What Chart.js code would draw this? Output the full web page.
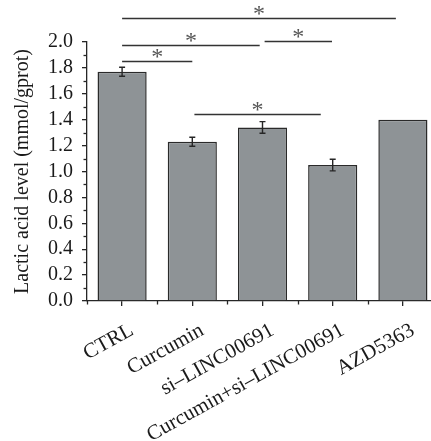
<!DOCTYPE html>
<html>
<head>
<meta charset="utf-8">
<script src="https://cdn.jsdelivr.net/npm/chart.js@4.4.1/dist/chart.umd.min.js"></script>
<style>
html,body{margin:0;padding:0;background:#fff;overflow:hidden;}
#wrap{width:431px;height:441px;overflow:hidden;}
</style>
</head>
<body>
<div id="wrap"><canvas id="c" width="438" height="441" style="width:438px;height:441px;"></canvas></div>
<script>
const categories = ['CTRL', 'Curcumin', 'si\u2013LINC00691', 'Curcumin+si\u2013LINC00691', 'AZD5363'];
const values = [1.77, 1.23, 1.34, 1.05, 1.40];
const errors = [0.035, 0.035, 0.045, 0.045, 0];
const yTicks = [0, 0.2, 0.4, 0.6, 0.8, 1.0, 1.2, 1.4, 1.6, 1.8, 2.0];
// significance brackets: start index, end index, level
const bracketStart = [0, 0, 2.03, 0, 1.03];
const bracketEnd = [3.9, 1.96, 2.99, 1.0, 2.83];
const bracketLevel = [2.185, 1.977, 2.008, 1.853, 1.444];
const bracketMark = ['*', '*', '*', '*', '*'];

const FONT = "'Liberation Serif', 'Times New Roman', serif";
const INK = '#262626';

const annot = {
  id: 'annot',
  afterDatasetsDraw(chart) {
    const ctx = chart.ctx;
    const xs = chart.scales.x, ys = chart.scales.y;
    ctx.save();
    ctx.strokeStyle = INK;
    ctx.lineWidth = 1.3;
    // minor y ticks
    for (let i = 0; i < yTicks.length - 1; i++) {
      const v = (yTicks[i] + yTicks[i + 1]) / 2;
      const py = Math.round(ys.getPixelForValue(v)) + 0.5;
      ctx.beginPath();
      ctx.moveTo(xs.left - 3.5, py);
      ctx.lineTo(xs.left, py);
      ctx.stroke();
    }
    // minor x ticks
    for (let i = 0; i <= categories.length; i++) {
      const px = Math.round(xs.getPixelForValue(i - 0.5)) + 0.5;
      ctx.beginPath();
      ctx.moveTo(px, ys.bottom);
      ctx.lineTo(px, ys.bottom + 3.5);
      ctx.stroke();
    }
    // error bars
    ctx.lineWidth = 1.4;
    for (let i = 0; i < values.length; i++) {
      if (!errors[i]) continue;
      const px = xs.getPixelForValue(i);
      const hi = ys.getPixelForValue(values[i] + errors[i]);
      const lo = ys.getPixelForValue(values[i] - errors[i]);
      ctx.beginPath();
      ctx.moveTo(px, hi); ctx.lineTo(px, lo);
      ctx.moveTo(px - 3, hi); ctx.lineTo(px + 3, hi);
      ctx.moveTo(px - 3, lo); ctx.lineTo(px + 3, lo);
      ctx.stroke();
    }
    // brackets
    ctx.lineWidth = 1.3;
    ctx.strokeStyle = '#333';
    ctx.fillStyle = '#555';
    ctx.font = '24px ' + FONT;
    ctx.textAlign = 'center';
    ctx.textBaseline = 'alphabetic';
    for (let i = 0; i < bracketStart.length; i++) {
      const x1 = xs.getPixelForValue(bracketStart[i]);
      const x2 = xs.getPixelForValue(bracketEnd[i]);
      const py = Math.round(ys.getPixelForValue(bracketLevel[i])) + 0.5;
      ctx.beginPath();
      ctx.moveTo(x1, py); ctx.lineTo(x2, py);
      ctx.stroke();
      ctx.fillText(bracketMark[i], (x1 + x2) / 2, py + 2);
    }
    ctx.restore();
  }
};

new Chart(document.getElementById('c'), {
  type: 'bar',
  data: {
    labels: categories,
    datasets: [{
      data: values,
      backgroundColor: '#8e9396',
      borderColor: '#2a2a2a',
      borderWidth: 1.5,
      categoryPercentage: 1.0,
      barPercentage: 0.7
    }]
  },
  options: {
    responsive: false,
    animation: false,
    devicePixelRatio: 1,
    layout: { padding: { top: 42, right: 0, left: 0, bottom: 0 } },
    plugins: { legend: { display: false }, tooltip: { enabled: false } },
    scales: {
      x: {
        afterFit(s) { s.height = 140; },
        grid: { offset: false, drawOnChartArea: false, drawTicks: true, tickLength: 5, color: INK, lineWidth: 1.3 },
        border: { display: true, color: INK, width: 1.3 },
        ticks: {
          color: '#1a1a1a',
          font: { family: FONT, size: 21 },
          minRotation: 29, maxRotation: 29,
          autoSkip: false,
          padding: 12,
          labelOffset: 10
        }
      },
      y: {
        min: 0, max: 2.0,
        afterFit(s) { s.width = 87; },
        grid: { drawOnChartArea: false, drawTicks: true, tickLength: 5, color: INK, lineWidth: 1.3 },
        border: { display: true, color: INK, width: 1.3 },
        afterBuildTicks(s) { s.ticks = yTicks.map(v => ({ value: v })); },
        ticks: {
          color: '#1a1a1a',
          font: { family: FONT, size: 20 },
          padding: 9,
          autoSkip: false,
          callback: v => Number(v).toFixed(1)
        },
        title: {
          display: true,
          text: 'Lactic acid level (mmol/gprot)',
          color: '#1a1a1a',
          font: { family: FONT, size: 20 },
          padding: { top: 11, bottom: 0 }
        }
      }
    }
  },
  plugins: [annot]
});
</script>
</body>
</html>
